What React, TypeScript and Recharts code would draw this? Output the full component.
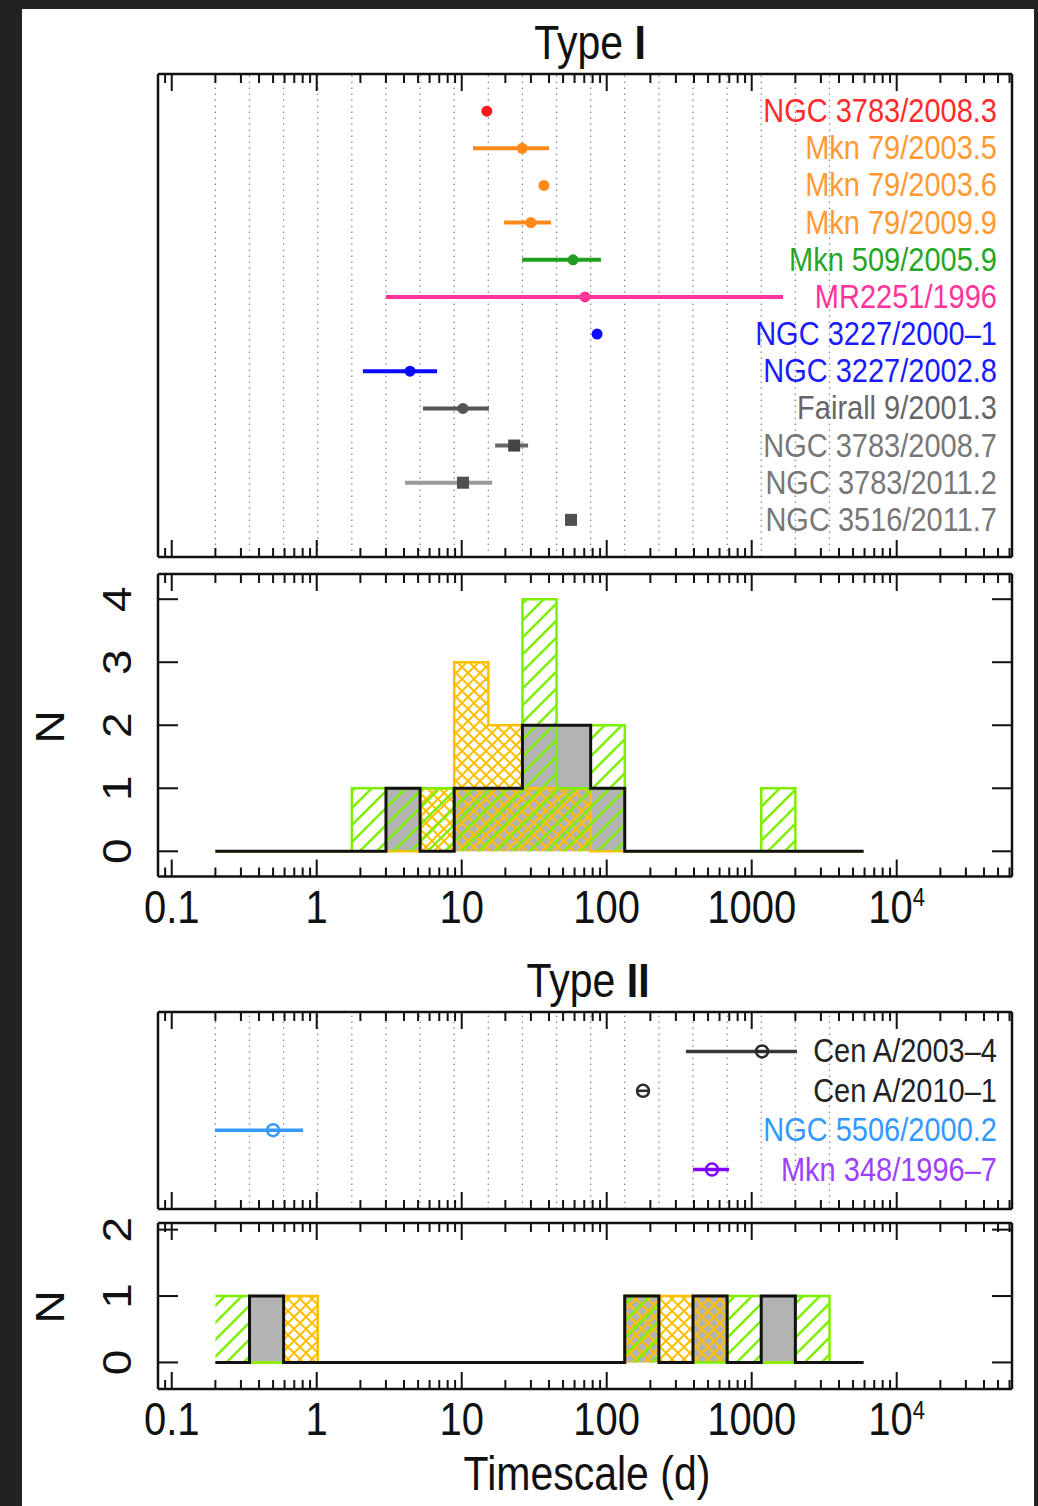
import React from "react";
import { ComposedChart, XAxis, YAxis, Scatter, ErrorBar, Area, Line, ReferenceLine } from "recharts";

// ---------- shared constants ----------
const FONT = "'Liberation Sans', Arial, Helvetica, sans-serif";
const SY = 1.15; // vertical stretch of the lettering
const INK = "#111111";
const ORANGE = "#ffbf00";
const GREEN = "#7cf000";
const GREYFILL = "#b3b3b3";

const X_DOMAIN: [number, number] = [0.0804, 62400];
const MAJOR_TICKS = [0.1, 1, 10, 100, 1000, 10000];
const MINOR_TICKS = [
  0.09, 0.2, 0.3, 0.4, 0.5, 0.6, 0.7, 0.8, 0.9,
  2, 3, 4, 5, 6, 7, 8, 9,
  20, 30, 40, 50, 60, 70, 80, 90,
  200, 300, 400, 500, 600, 700, 800, 900,
  2000, 3000, 4000, 5000, 6000, 7000, 8000, 9000,
  20000, 30000, 40000, 50000, 60000,
];
const ALL_X_TICKS = [...MAJOR_TICKS, ...MINOR_TICKS].sort((a, b) => a - b);

// histogram bin edges (days)
const BIN_EDGES = [
  0.2, 0.344, 0.591, 1.016, 1.747, 3.003, 5.162, 8.874, 15.26, 26.22,
  45.08, 77.5, 133.2, 229.0, 393.7, 676.8, 1163, 2000, 3440, 5911,
];
const GRID_EDGES = BIN_EDGES.slice(0, 19);

// ---------- Type I sources ----------
const TYPE1_NAMES = [
  "NGC 3783/2008.3", "Mkn 79/2003.5", "Mkn 79/2003.6", "Mkn 79/2009.9",
  "Mkn 509/2005.9", "MR2251/1996", "NGC 3227/2000\u20131", "NGC 3227/2002.8",
  "Fairall 9/2001.3", "NGC 3783/2008.7", "NGC 3783/2011.2", "NGC 3516/2011.7",
];
const TYPE1_VALUES = [14.9, 26.1, 36.9, 30.0, 58.6, 70.8, 85.8, 4.4, 10.2, 23.0, 10.2, 56.7];
const TYPE1_LOW = [null, 11.97, null, 19.6, 26.1, 3.0, null, 2.08, 5.41, 17.0, 4.06, null];
const TYPE1_HIGH = [null, 40.0, null, 41.3, 91.2, 1644, null, 6.76, 15.4, 28.7, 16.2, null];
const TYPE1_MARKERS = ["circle", "circle", "circle", "circle", "circle", "circle", "circle", "circle", "circle", "square", "square", "square"];
const TYPE1_MARKER_COLORS = ["#ff1a1a", "#ff8a1a", "#ff8a1a", "#ff8a1a", "#1f9e1f", "#ff3399", "#0a0aff", "#0a0aff", "#555555", "#444444", "#505050", "#505050"];
const TYPE1_BAR_COLORS = ["#ff1a1a", "#ff8a1a", "#ff8a1a", "#ff8a1a", "#1f9e1f", "#ff3399", "#0a0aff", "#0a0aff", "#555555", "#666666", "#999999", "#505050"];
const TYPE1_LABEL_COLORS = ["#ff2a2a", "#ff9a33", "#ff9a33", "#ff9a33", "#26a626", "#ff3399", "#1a1aff", "#1a1aff", "#666666", "#777777", "#777777", "#777777"];

// Type I histograms (counts per bin)
const TYPE1_HIST_GREY = [0, 0, 0, 0, 0, 1, 0, 1, 1, 2, 2, 1, 0, 0, 0, 0, 0, 0, 0];
const TYPE1_HIST_ORANGE = [0, 0, 0, 0, 0, 0, 1, 3, 2, 1, 1, 0, 0, 0, 0, 0, 0, 0, 0];
const TYPE1_HIST_GREEN = [0, 0, 0, 0, 1, 1, 1, 1, 1, 4, 1, 2, 0, 0, 0, 0, 1, 0, 0];

// ---------- Type II sources ----------
const TYPE2_NAMES = ["Cen A/2003\u20134", "Cen A/2010\u20131", "NGC 5506/2000.2", "Mkn 348/1996\u20137"];
const TYPE2_VALUES = [1178, 178, 0.5, 532];
const TYPE2_LOW = [352, null, 0.199, 394];
const TYPE2_HIGH = [2051, null, 0.805, 697];
const TYPE2_MARKERS = ["open", "open", "open", "open"];
const TYPE2_MARKER_COLORS = ["#2a2a2a", "#2a2a2a", "#3399ff", "#7f00ff"];
const TYPE2_BAR_COLORS = ["#3a3a3a", "#2a2a2a", "#3399ff", "#7f00ff"];
const TYPE2_LABEL_COLORS = ["#222222", "#222222", "#3399ff", "#a040ff"];

const TYPE2_HIST_GREY = [0, 1, 0, 0, 0, 0, 0, 0, 0, 0, 0, 0, 1, 0, 1, 0, 1, 0, 0];
const TYPE2_HIST_ORANGE = [0, 0, 1, 0, 0, 0, 0, 0, 0, 0, 0, 0, 1, 1, 1, 0, 0, 0, 0];
const TYPE2_HIST_GREEN = [1, 0, 0, 0, 0, 0, 0, 0, 0, 0, 0, 0, 1, 0, 0, 1, 0, 1, 0];

// ---------- layout ----------
const W = 1038;
const PL = 158;
const PR = 1012;
const AX = 1; // thickness reserved for each (thin) axis
const MARGIN_LR = { left: PL - AX, right: W - PR - AX };

// ---------- helpers ----------
function buildRows(names: string[], values: number[], low: (number | null)[], high: (number | null)[], markers: string[], colors: string[]) {
  return names.map((name, i) => ({
    name,
    x: values[i],
    y: i,
    ex: low[i] != null && high[i] != null ? [values[i] - (low[i] as number), (high[i] as number) - values[i]] : null,
    marker: markers[i],
    color: colors[i],
  }));
}

function buildHist(grey: number[], orange: number[], green: number[]) {
  return BIN_EDGES.map((x, i) => ({
    x,
    grey: i < grey.length ? grey[i] : 0,
    orange: i < orange.length ? orange[i] : 0,
    green: i < green.length ? green[i] : 0,
  }));
}

function Marker(props: any) {
  const { cx, cy, payload } = props;
  if (cx == null || cy == null || !payload) return null;
  const c = payload.color;
  if (payload.marker === "square") {
    return <rect x={cx - 6} y={cy - 6} width={12} height={12} fill={c} />;
  }
  if (payload.marker === "open") {
    return (
      <g>
        <circle cx={cx} cy={cy} r={6} fill="none" stroke={c} strokeWidth={2.5} />
        <line x1={cx - 6} x2={cx + 6} y1={cy} y2={cy} stroke={c} strokeWidth={2.5} />
      </g>
    );
  }
  return <circle cx={cx} cy={cy} r={5.5} fill={c} />;
}

function tickLabel(v: number) {
  if (v === 10000) {
    return (
      <>
        10<tspan dy={-14} fontSize={22}>4</tspan>
      </>
    );
  }
  return String(v);
}

function makeXTick(edgeY: number, dir: number, labelY: number | null) {
  return (props: any) => {
    const { x, payload } = props;
    const v = payload.value;
    const major = MAJOR_TICKS.includes(v);
    const len = major ? 17 : 9;
    return (
      <g>
        <line x1={x} x2={x} y1={edgeY} y2={edgeY + dir * len} stroke={INK} strokeWidth={2} />
        {labelY != null && major ? (
          <text
            transform={`translate(${x},${labelY}) scale(1,${SY})`}
            textAnchor="middle"
            fontFamily={FONT}
            fontSize={40}
            fill={INK}
          >
            {tickLabel(v)}
          </text>
        ) : null}
      </g>
    );
  };
}

function makeLeftCountTick() {
  return (props: any) => {
    const { y, payload } = props;
    return (
      <g>
        <line x1={PL} x2={PL + 20} y1={y} y2={y} stroke={INK} strokeWidth={2} />
        <text
          transform={`translate(131,${y}) scale(1,${SY}) rotate(-90)`}
          textAnchor="middle"
          fontFamily={FONT}
          fontSize={40}
          fill={INK}
        >
          {payload.value}
        </text>
      </g>
    );
  };
}

function makeRightCountTick() {
  return (props: any) => {
    const { y } = props;
    return <line x1={PR - 20} x2={PR} y1={y} y2={y} stroke={INK} strokeWidth={2} />;
  };
}

function makeNameTick(names: string[], colors: string[]) {
  return (props: any) => {
    const { y, payload } = props;
    const i = payload.value;
    if (i < 0 || i >= names.length) return <g />;
    return (
      <text
        transform={`translate(997,${y + 11}) scale(1,${SY})`}
        textAnchor="end"
        fontFamily={FONT}
        fontSize={29}
        fill={colors[i]}
      >
        {names[i]}
      </text>
    );
  };
}

const frame = { stroke: INK, strokeWidth: 2.5 };

// ---------- panels ----------
function ErrorPanel(props: {
  top: number; height: number; plotTop: number; plotBottom: number;
  rows: any[]; names: string[]; labelColors: string[]; barColors: string[]; yDomain: [number, number]; barWidth: number;
}) {
  const { top, height, plotTop, plotBottom, rows, names, labelColors, barColors, yDomain, barWidth } = props;
  const mTop = plotTop - top;
  const mBottom = top + height - plotBottom;
  const pb = plotBottom - top;
  const yTicks = names.map((_, i) => i);
  return (
    <div style={{ position: "absolute", left: 0, top, width: W, height }}>
      <ComposedChart width={W} height={height} margin={{ top: mTop - AX, bottom: mBottom - AX, ...MARGIN_LR }}>
        <XAxis xAxisId="b" dataKey="x" type="number" scale="log" domain={X_DOMAIN} allowDataOverflow
          ticks={ALL_X_TICKS} interval={0} height={AX} tickLine={false} axisLine={frame}
          tick={makeXTick(pb, -1, null)} />
        <XAxis xAxisId="t" orientation="top" dataKey="x" type="number" scale="log" domain={X_DOMAIN} allowDataOverflow
          ticks={ALL_X_TICKS} interval={0} height={AX} tickLine={false} axisLine={frame}
          tick={makeXTick(mTop, 1, null)} />
        <YAxis yAxisId="l" dataKey="y" type="number" domain={yDomain} reversed allowDataOverflow
          width={AX} tick={false} tickLine={false} axisLine={frame} />
        <YAxis yAxisId="r" orientation="right" dataKey="y" type="number" domain={yDomain} reversed allowDataOverflow
          ticks={yTicks} interval={0} width={AX} tickLine={false} axisLine={frame}
          tick={makeNameTick(names, labelColors)} />
        {GRID_EDGES.map((e) => (
          <ReferenceLine key={e} x={e} xAxisId="b" yAxisId="l" stroke="#8a8a8a" strokeWidth={1.3} strokeDasharray="1.5 4.5" />
        ))}
        {rows.map((r, i) => (
          <Scatter key={r.name} name={r.name} data={[r]} xAxisId="b" yAxisId="l" shape={Marker} isAnimationActive={false}>
            {r.ex ? (
              <ErrorBar dataKey="ex" direction="x" width={0} stroke={barColors[i]} strokeWidth={barWidth} isAnimationActive={false} />
            ) : null}
          </Scatter>
        ))}
      </ComposedChart>
    </div>
  );
}

function HistPanel(props: {
  top: number; height: number; plotTop: number; plotBottom: number;
  data: any[]; yDomain: [number, number]; yTicks: number[];
}) {
  const { top, height, plotTop, plotBottom, data, yDomain, yTicks } = props;
  const mTop = plotTop - top;
  const mBottom = top + height - plotBottom;
  const pb = plotBottom - top;
  return (
    <div style={{ position: "absolute", left: 0, top, width: W, height }}>
      <ComposedChart width={W} height={height} data={data} margin={{ top: mTop - AX, bottom: mBottom - AX, ...MARGIN_LR }}>
        <XAxis xAxisId="b" dataKey="x" type="number" scale="log" domain={X_DOMAIN} allowDataOverflow
          ticks={ALL_X_TICKS} interval={0} height={AX} tickLine={false} axisLine={frame}
          tick={makeXTick(pb, -1, pb + 46)} />
        <XAxis xAxisId="t" orientation="top" dataKey="x" type="number" scale="log" domain={X_DOMAIN} allowDataOverflow
          ticks={ALL_X_TICKS} interval={0} height={AX} tickLine={false} axisLine={frame}
          tick={makeXTick(mTop, 1, null)} />
        <YAxis yAxisId="l" type="number" domain={yDomain} allowDataOverflow ticks={yTicks} interval={0}
          width={AX} tickLine={false} axisLine={frame} tick={makeLeftCountTick()} />
        <YAxis yAxisId="r" orientation="right" type="number" domain={yDomain} allowDataOverflow ticks={yTicks} interval={0}
          width={AX} tickLine={false} axisLine={frame} tick={makeRightCountTick()} />
        <Area xAxisId="b" yAxisId="l" type="stepAfter" dataKey="grey" stroke="none" fill={GREYFILL}
          fillOpacity={1} baseValue={0} isAnimationActive={false} dot={false} activeDot={false} />
        <Area xAxisId="b" yAxisId="l" type="stepAfter" dataKey="orange" stroke={ORANGE} strokeWidth={2.5}
          fill="url(#crossOrange)" fillOpacity={1} baseValue={0} isAnimationActive={false} dot={false} activeDot={false} />
        <Area xAxisId="b" yAxisId="l" type="stepAfter" dataKey="green" stroke={GREEN} strokeWidth={2.5}
          fill="url(#diagGreen)" fillOpacity={1} baseValue={0} isAnimationActive={false} dot={false} activeDot={false} />
        <Line xAxisId="b" yAxisId="l" type="stepAfter" dataKey="grey" stroke={INK} strokeWidth={3}
          dot={false} activeDot={false} isAnimationActive={false} />
      </ComposedChart>
    </div>
  );
}

export default function App() {
  const rows1 = buildRows(TYPE1_NAMES, TYPE1_VALUES, TYPE1_LOW, TYPE1_HIGH, TYPE1_MARKERS, TYPE1_MARKER_COLORS);
  const rows2 = buildRows(TYPE2_NAMES, TYPE2_VALUES, TYPE2_LOW, TYPE2_HIGH, TYPE2_MARKERS, TYPE2_MARKER_COLORS);
  const hist1 = buildHist(TYPE1_HIST_GREY, TYPE1_HIST_ORANGE, TYPE1_HIST_GREEN);
  const hist2 = buildHist(TYPE2_HIST_GREY, TYPE2_HIST_ORANGE, TYPE2_HIST_GREEN);

  const textStyle = { fontFamily: FONT, fill: INK } as const;

  return (
    <div style={{ position: "absolute", left: 0, top: 0, width: W, height: 1506, background: "#222222", overflow: "hidden" }}>
      <div style={{ position: "absolute", left: 22, top: 9, width: 1012, height: 1497, background: "#ffffff" }} />
      <svg width={0} height={0} style={{ position: "absolute" }}>
        <defs>
          <pattern id="diagGreen" patternUnits="userSpaceOnUse" width={17} height={17}>
            <path d="M-3,3 L3,-3 M0,17 L17,0 M14,20 L20,14" stroke={GREEN} strokeWidth={2.5} />
          </pattern>
          <pattern id="crossOrange" patternUnits="userSpaceOnUse" width={12} height={12}>
            <path d="M0,0 L12,12 M12,0 L0,12" stroke={ORANGE} strokeWidth={2} />
          </pattern>
        </defs>
      </svg>

      <ErrorPanel top={0} height={565} plotTop={74} plotBottom={557} rows={rows1} names={TYPE1_NAMES}
        labelColors={TYPE1_LABEL_COLORS} barColors={TYPE1_BAR_COLORS} yDomain={[-1, 12]} barWidth={4} />
      <HistPanel top={565} height={380} plotTop={574} plotBottom={876.5} data={hist1} yDomain={[-0.4, 4.4]} yTicks={[0, 1, 2, 3, 4]} />
      <ErrorPanel top={945} height={270} plotTop={1012} plotBottom={1209} rows={rows2} names={TYPE2_NAMES}
        labelColors={TYPE2_LABEL_COLORS} barColors={TYPE2_BAR_COLORS} yDomain={[-1, 4]} barWidth={3.5} />
      <HistPanel top={1215} height={291} plotTop={1223} plotBottom={1389} data={hist2} yDomain={[-0.4, 2.1]} yTicks={[0, 1, 2]} />

      <svg width={W} height={1506} style={{ position: "absolute", left: 0, top: 0, pointerEvents: "none" }}>
        <text transform={`translate(590,59) scale(1,${SY})`} textAnchor="middle" fontSize={41} {...textStyle}>
          Type <tspan fontWeight="bold">I</tspan>
        </text>
        <text transform={`translate(588,997) scale(1,${SY})`} textAnchor="middle" fontSize={41} {...textStyle}>
          Type <tspan fontWeight="bold">II</tspan>
        </text>
        <text transform={`translate(64,727) scale(1,${SY}) rotate(-90)`} textAnchor="middle" fontSize={40} {...textStyle}>N</text>
        <text transform={`translate(64,1307) scale(1,${SY}) rotate(-90)`} textAnchor="middle" fontSize={40} {...textStyle}>N</text>
        <text transform={`translate(587,1490) scale(1,${SY})`} textAnchor="middle" fontSize={41} {...textStyle}>Timescale (d)</text>
      </svg>
    </div>
  );
}
